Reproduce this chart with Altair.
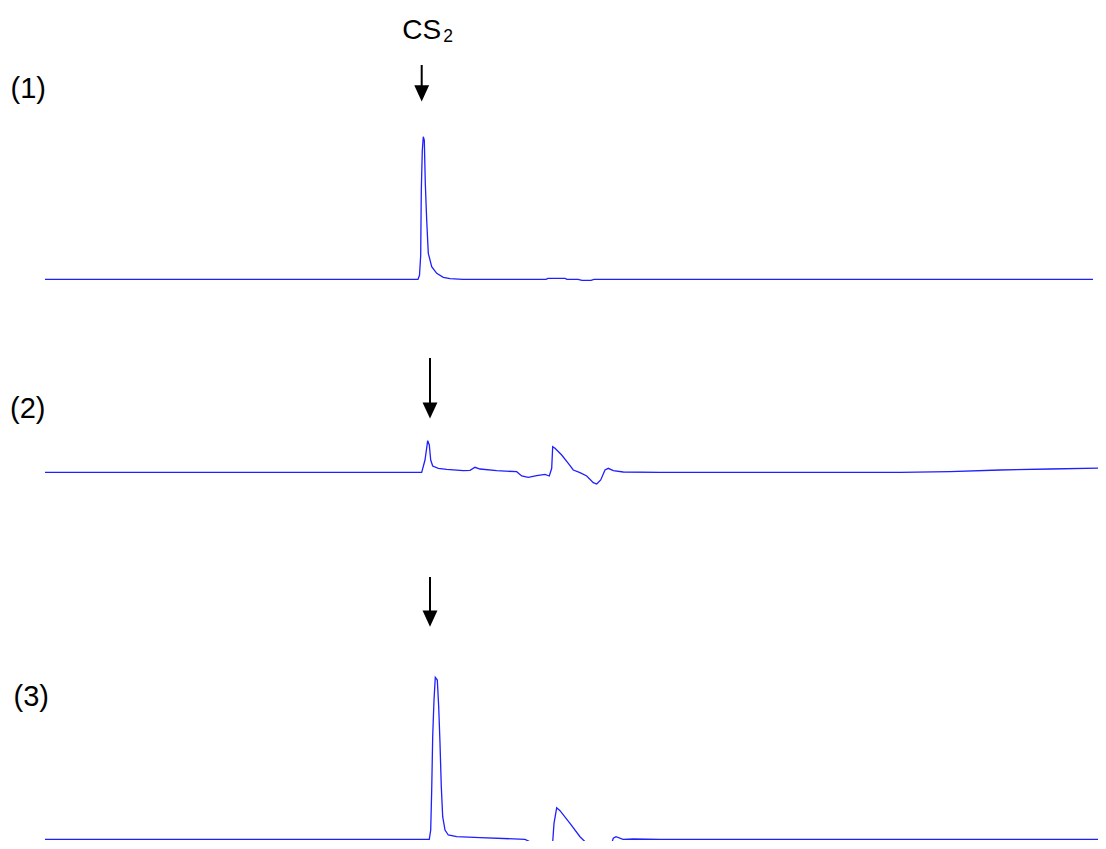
import altair as alt
import pandas as pd

# ---- chromatogram traces: scan index vs detector signal (arbitrary units) ----
scan1 = [0, 373, 374.5, 375.7, 376.3, 377.3, 378.3, 379.3, 380.3, 381.7, 383.3, 386.7,
         391.7, 398.3, 405, 418, 501, 503, 520, 522, 533, 537, 546, 549, 1048]
sig1 = [0, 0, 4, 24, 89, 129, 142.6, 139, 96, 59, 26, 12.6,
        6, 2, 0.6, 0, 0, 1, 1, 0, 0, -1, -1, 0, 0]

scan2 = [0, 376.7, 380, 382.7, 384.3, 385.7, 387.7, 393.3, 401.7, 418.3, 425, 430, 435,
         451.7, 471.7, 476.7, 483.3, 491.7, 500, 504.3, 506.7, 507.7, 510, 516.7, 523.3,
         528.3, 535, 541.7, 548.3, 551.7, 555.7, 560, 563.3, 568.3, 578.3, 615, 855,
         905, 955, 1005, 1061]
sig2 = [0, 0, 12.3, 31.6, 27.3, 12.3, 6.3, 4, 3, 1.6, 2, 5, 3.3,
        1.6, 0.6, -3.7, -5, -3.4, -2, -3.7, 4, 25.6, 24, 17.3, 9,
        2.3, -0.4, -3.7, -10.4, -11.7, -7.7, 2.3, 4, 1.6, 0.3, 0, 0,
        0.6, 2.3, 3.3, 4.3]

scan3 = [0, 384.3, 385.7, 386.7, 387.7, 389, 390.3, 392.3, 393.7, 395, 396.3, 397.7,
         400, 403.3, 411.7, 435, 480, 484, 491.7, 498, 507.7, 509, 511.7, 515,
         525, 535, 546.7, 555, 565, 568.3, 571, 578, 588.3, 615, 1055]
sig3 = [0, 0, 9.3, 49.3, 102.6, 139.3, 162, 159.3, 132.6, 96, 52.6, 22.6,
        9.3, 4.3, 2.6, 1.6, 0, -2, -6.7, -3.7, -2.7, 16, 31.6, 28.6,
        16, 2.6, -9, -18, -9, 1, 2.6, 0, 0.3, 0, 0]

# ---- annotations ----
labels = ["(1)", "(2)", "(3)"]
arrow_scan = [376.7, 385, 385]          # injection marker position
arrow_top = [214.3, 114.3, 262.3]       # shaft start (signal units)
arrow_end = [193.3, 68.3, 228.3]        # shaft end
arrow_head = [186.0, 61.8, 220.6]       # head centre
cs2_y = 240.3

X_DOMAIN = [-37, 1053]
Y_DOMAINS = [[-20.7, 271.3], [-47.7, 172.3], [-1.7, 319.3]]
HEIGHTS = [292, 220, 321]
LABEL_POS = [(2.5, 90.3), (2, 118.3), (5.5, 185.7)]
WIDTH = 1090
FONT = "Liberation Sans"
BLUE = "#1f1fff"

traces = [(scan1, sig1), (scan2, sig2), (scan3, sig3)]


def make_panel(i):
    scans, sigs = traces[i]
    xs = alt.Scale(domain=X_DOMAIN, nice=False, zero=False)
    ys = alt.Scale(domain=Y_DOMAINS[i], nice=False, zero=False)
    df = pd.DataFrame({"scan": scans, "signal": sigs})
    line = alt.Chart(df).mark_line(color=BLUE, strokeWidth=1.3, clip=True).encode(
        x=alt.X("scan:Q", scale=xs, axis=None),
        y=alt.Y("signal:Q", scale=ys, axis=None),
    )
    adf = pd.DataFrame({"x": [arrow_scan[i]], "top": [arrow_top[i]],
                        "end": [arrow_end[i]], "head": [arrow_head[i]]})
    shaft = alt.Chart(adf).mark_rule(color="black", strokeWidth=2).encode(
        x=alt.X("x:Q", scale=xs, axis=None),
        y=alt.Y("top:Q", scale=ys, axis=None),
        y2="end:Q",
    )
    head = alt.Chart(adf).mark_point(
        shape="M-0.92,-1L0.92,-1L0,1Z", filled=True, color="black", opacity=1, size=262
    ).encode(
        x=alt.X("x:Q", scale=xs, axis=None),
        y=alt.Y("head:Q", scale=ys, axis=None),
    )
    ldf = pd.DataFrame({"label": [labels[i]]})
    lab = alt.Chart(ldf).mark_text(
        font=FONT, fontSize=29, align="left", baseline="alphabetic", color="black"
    ).encode(
        x=alt.value(LABEL_POS[i][0]), y=alt.value(LABEL_POS[i][1]), text="label:N"
    )
    layers = [line, shaft, head, lab]
    if i == 0:
        cdf = pd.DataFrame({"x": [arrow_scan[0]], "y": [cs2_y], "t": ["CS"], "s": ["2"]})
        cs = alt.Chart(cdf).mark_text(
            font=FONT, fontSize=28, align="center", baseline="alphabetic", color="black"
        ).encode(
            x=alt.X("x:Q", scale=xs, axis=None),
            y=alt.Y("y:Q", scale=ys, axis=None),
            text="t:N",
        )
        sub = alt.Chart(cdf).mark_text(
            font=FONT, fontSize=17.5, align="left", baseline="alphabetic", color="black",
            dx=21.5, dy=2.7,
        ).encode(
            x=alt.X("x:Q", scale=xs, axis=None),
            y=alt.Y("y:Q", scale=ys, axis=None),
            text="s:N",
        )
        layers += [cs, sub]
    return alt.layer(*layers).properties(width=WIDTH, height=HEIGHTS[i])


chart = alt.vconcat(*[make_panel(i) for i in range(3)], spacing=0).properties(
    padding=0, background="white"
).configure_view(stroke=None).configure_concat(spacing=0)

chart.save("out.html", embed_options={"renderer": "svg", "actions": False})
